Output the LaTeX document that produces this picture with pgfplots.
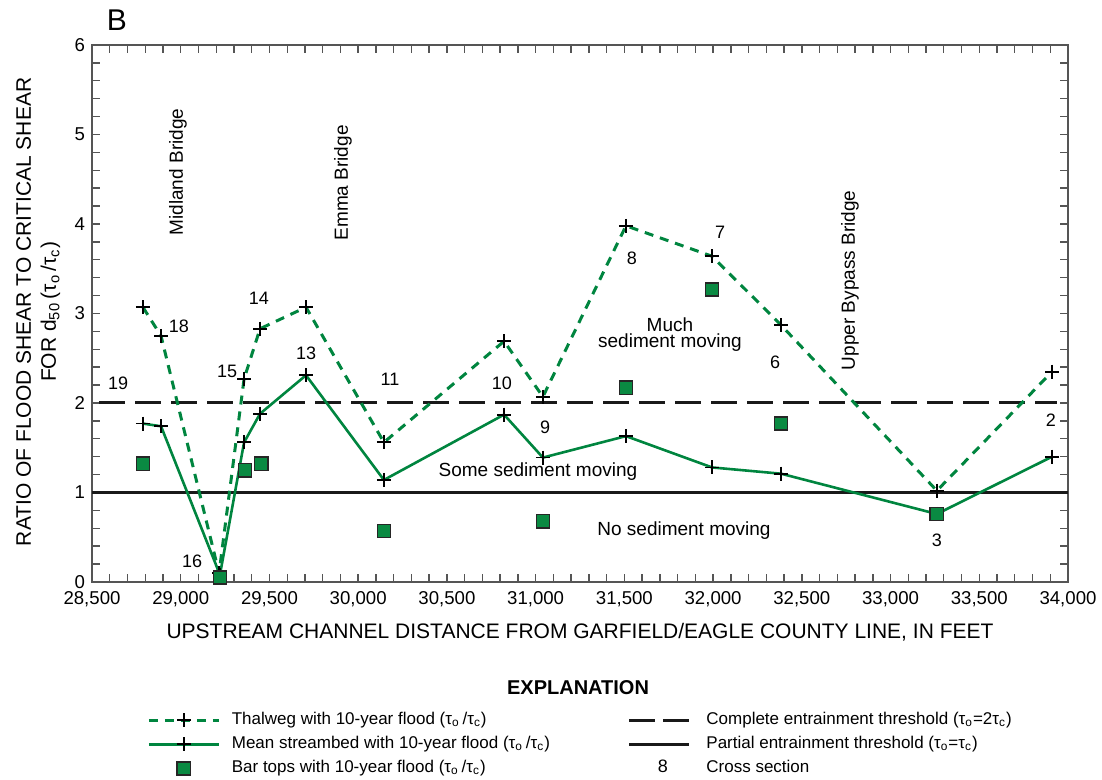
\documentclass[border=0pt]{standalone}
\usepackage{fontspec}
\setmainfont{Liberation Sans}
\usepackage{pgfplots}
\usepackage{pgfplotstable}
\pgfplotsset{compat=1.18}

\definecolor{sgreen}{HTML}{00853F}
\definecolor{sqgreen}{HTML}{0A8A42}
\definecolor{axgray}{HTML}{555555}

% Cross-section distances (ft) and shear ratios
\pgfplotstableread{
x      y
28787  3.07
28889  2.75
29216  0.10
29357  2.27
29447  2.83
29706  3.07
30145  1.56
30822  2.69
31041  2.07
31509  3.98
31994  3.64
32383  2.87
33261  1.02
33910  2.35
}\thalweg
\pgfplotstableread{
x      y
28787  1.77
28889  1.74
29221  0.08
29357  1.56
29447  1.88
29706  2.31
30145  1.14
30822  1.87
31041  1.39
31509  1.63
31994  1.28
32383  1.21
33261  0.76
33910  1.40
}\meanbed
\pgfplotstableread{
x      y
28787  1.32
29221  0.05
29362  1.25
29453  1.32
30145  0.57
31041  0.68
31509  2.17
31994  3.27
32383  1.77
33261  0.76
}\bartops

\tikzset{
  thalwegstyle/.style={sgreen, line width=1.5pt, dash pattern=on 4.5pt off 3.5pt,
    mark=+, mark size=3.5pt, mark options={black, solid, line width=0.9pt}},
  meanstyle/.style={sgreen, line width=1.3pt,
    mark=+, mark size=3.5pt, mark options={black, solid, line width=0.9pt}},
  barstyle/.style={only marks, mark=square*, mark size=3.3pt,
    mark options={fill=sqgreen, draw=black!85, line width=0.8pt}},
}
\pgfplotsset{
  longlineleg/.style={legend image code/.code={%
    \path[draw=none, fill=none] (0pt,0pt) -- (38.5pt,0pt);
    \draw[##1, mark repeat=2, mark phase=2] plot coordinates {(0pt,0pt) (17.5pt,0pt) (35pt,0pt)};}},
  markleg/.style={legend image code/.code={%
    \path[draw=none, fill=none] (0pt,0pt) -- (38.5pt,0pt);
    \draw[##1] plot coordinates {(17.5pt,0pt)};}},
  shortlineleg/.style={legend image code/.code={%
    \path[draw=none, fill=none] (0pt,0pt) -- (35.5pt,0pt);
    \draw[##1] (0pt,0pt) -- (30pt,0pt);}},
  numberleg/.style={legend image code/.code={%
    \path[draw=none, fill=none] (0pt,0pt) -- (35.5pt,0pt);
    \node[inner sep=0pt, font=\fontsize{9}{10}\selectfont] at (14pt,0pt) {8};}},
}

\begin{document}
\begin{tikzpicture}
\path[use as bounding box] (0,0) rectangle (551pt,390pt);
\begin{axis}[
  at={(46pt,99pt)}, anchor=south west,
  scale only axis, width=488pt, height=268.5pt,
  xmin=28500, xmax=34000, ymin=0, ymax=6,
  xtick={28500,29000,...,34000}, ytick={0,1,...,6},
  minor x tick num=4, minor y tick num=4,
  tick align=inside, major tick length=4pt, minor tick length=4pt,
  axis line style={draw=axgray, line width=0.7pt},
  tick style={draw=axgray, line width=0.7pt},
  ticklabel style={font=\fontsize{9.3}{10}\selectfont},
  scaled x ticks=false,
  xticklabel style={/pgf/number format/fixed, /pgf/number format/1000 sep={,}, yshift=-1pt},
  /pgf/number format/1000 sep={,},
  /pgf/number format/assume math mode=true,
  clip=false,
  xlabel={UPSTREAM CHANNEL DISTANCE FROM GARFIELD/EAGLE COUNTY LINE, IN FEET},
  xlabel style={font=\fontsize{10.5}{12}\selectfont, at={(axis description cs:0.5,-0.093)}, anchor=center},
  ylabel={RATIO OF FLOOD SHEAR TO CRITICAL SHEAR\\FOR d\textsubscript{50}\,(τ\textsubscript{o}\,/τ\textsubscript{c})},
  ylabel style={font=\fontsize{10.5}{12.5}\selectfont, align=center, at={(axis description cs:-0.055,0.503)}, anchor=center},
  legend columns=2, legend cell align=left,
  legend style={at={(axis description cs:0.0563,-0.2346)}, anchor=north west,
    draw=none, fill=none, inner sep=0pt,
    font=\fontsize{8.5}{10}\selectfont,
    nodes={inner xsep=3pt, inner ysep=1.75pt, text height=6.5pt, text depth=2pt},
    /tikz/every even column/.append style={column sep=36pt}},
]
% thresholds
\addplot[black!90, line width=1.5pt, dash pattern=on 13pt off 5pt, forget plot]
  coordinates {(28540,2) (33940,2)};
\addplot[black!90, line width=1.5pt, forget plot]
  coordinates {(28500,1) (34000,1)};

% profiles
\addplot[thalwegstyle, forget plot] table[x=x, y=y] {\thalweg};
\addplot[meanstyle, forget plot] table[x=x, y=y] {\meanbed};
\addplot[barstyle, forget plot] table[x=x, y=y] {\bartops};

% legend entries
\addlegendimage{thalwegstyle, longlineleg}
\addlegendentry{Thalweg with 10-year flood (τ\textsubscript{o}\,/τ\textsubscript{c})}
\addlegendimage{black!90, line width=1.5pt, dash pattern=on 13pt off 4pt, shortlineleg}
\addlegendentry{Complete entrainment threshold (τ\textsubscript{o}=2τ\textsubscript{c})}
\addlegendimage{meanstyle, longlineleg}
\addlegendentry{Mean streambed with 10-year flood (τ\textsubscript{o}\,/τ\textsubscript{c})}
\addlegendimage{black!90, line width=1.5pt, shortlineleg}
\addlegendentry{Partial entrainment threshold (τ\textsubscript{o}=τ\textsubscript{c})}
\addlegendimage{barstyle, markleg}
\addlegendentry{Bar tops with 10-year flood (τ\textsubscript{o}\,/τ\textsubscript{c})}
\addlegendimage{numberleg}
\addlegendentry{Cross section}

% cross-section numbers
\begin{scope}[every node/.style={font=\fontsize{9}{10}\selectfont, inner sep=0pt}]
\node at (axis cs:28647,2.22) {19};
\node at (axis cs:28990,2.86) {18};
\node at (axis cs:29064,0.23) {16};
\node at (axis cs:29261,2.35) {15};
\node at (axis cs:29441,3.17) {14};
\node at (axis cs:29706,2.55) {13};
\node at (axis cs:30179,2.26) {11};
\node at (axis cs:30810,2.22) {10};
\node at (axis cs:31053,1.73) {9};
\node at (axis cs:31543,3.62) {8};
\node at (axis cs:32039,3.91) {7};
\node at (axis cs:32349,2.45) {6};
\node at (axis cs:33261,0.47) {3};
\node at (axis cs:33904,1.81) {2};
\end{scope}

% zones
\begin{scope}[every node/.style={font=\fontsize{9.5}{10.5}\selectfont, inner sep=0pt}]
\node at (axis cs:31757,2.87) {Much};
\node at (axis cs:31757,2.67) {sediment moving};
\node at (axis cs:31013,1.23) {Some sediment moving};
\node at (axis cs:31836,0.57) {No sediment moving};
\end{scope}

% bridges
\begin{scope}[every node/.style={font=\fontsize{9.5}{10.5}\selectfont, inner sep=0pt, rotate=90}]
\node at (axis cs:28985,4.58) {Midland Bridge};
\node at (axis cs:29914,4.46) {Emma Bridge};
\node at (axis cs:32771,3.37) {Upper Bypass Bridge};
\end{scope}

\node[font=\fontsize{15}{16}\selectfont] at (axis description cs:0.0256,1.0466) {B};
\node[font=\bfseries\fontsize{10}{12}\selectfont] at (axis description cs:0.498,-0.197) {EXPLANATION};
\end{axis}
\end{tikzpicture}
\end{document}
